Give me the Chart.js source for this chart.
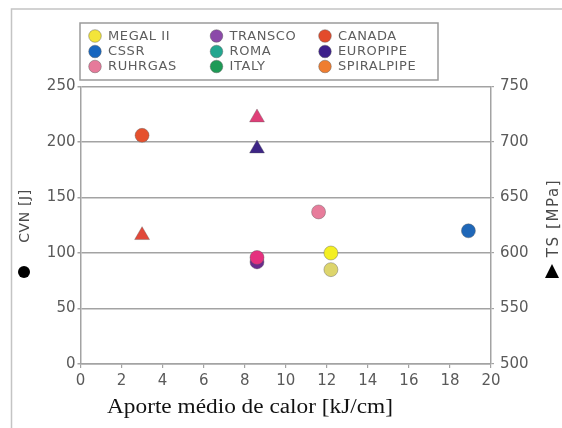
<!DOCTYPE html>
<html>
<head>
<meta charset="utf-8">
<script src="https://cdn.jsdelivr.net/npm/chart.js@4/dist/chart.umd.min.js"></script>
<style>
  html, body { margin: 0; padding: 0; background: #fff; }
  #wrap { position: relative; width: 562px; height: 428px; }
</style>
</head>
<body>
<div id="wrap"><canvas id="chart"></canvas></div>
<script>
// Charpy energy (CVN) measurements against mean heat input
const heatInputCVN = [3.0, 8.6, 8.6, 11.6, 12.2, 12.2, 18.9];
const cvnJ = [206, 92, 96, 137, 100, 85, 120];
const cvnPipeline = ['CANADA', 'EUROPIPE', 'RUHRGAS', 'RUHRGAS', 'MEGAL II', 'MEGAL II', 'CSSR'];

// Tensile strength (TS) measurements against mean heat input
const heatInputTS = [3.0, 8.6, 8.6];
const tsMPa = [616, 694, 722];
const tsPipeline = ['CANADA', 'EUROPIPE', 'RUHRGAS'];

// Legend entries, listed column by column
const legendNames = ['MEGAL II', 'CSSR', 'RUHRGAS', 'TRANSCO', 'ROMA', 'ITALY', 'CANADA', 'EUROPIPE', 'SPIRALPIPE'];

// Axis ticks
const xTicks = [0, 2, 4, 6, 8, 10, 12, 14, 16, 18, 20];
const cvnTicks = [0, 50, 100, 150, 200, 250];
const tsTicks = [500, 550, 600, 650, 700, 750];

// Colours
const legendColors = ['#f3e53a', '#1766bf', '#e67a9a', '#8b4aa9', '#23a68f', '#1e9a56', '#e34b2b', '#3d208c', '#ef7d30'];
const cvnColors = ['#e5512e', '#6a2b8d', '#e5307e', '#e77c9b', '#f4ef22', '#ddd56c', '#1f67b8'];
const tsColors = ['#e1483a', '#3d2585', '#df3f78'];

const GRID = '#a3a3a3';
const TICK_TXT = '#5a5a5a';
const SANS = '"DejaVu Sans", sans-serif';

const cvnPoints = heatInputCVN.map((x, i) => ({ x: x, y: cvnJ[i], pipeline: cvnPipeline[i] }));
const tsPoints = heatInputTS.map((x, i) => ({ x: x, y: tsMPa[i], pipeline: tsPipeline[i] }));

// Page frame, legend box, axis titles with their marker symbols
const decorations = {
  id: 'decorations',
  beforeDraw(chart) {
    const ctx = chart.ctx;
    ctx.save();
    ctx.fillStyle = '#fff';
    ctx.fillRect(0, 0, chart.width, chart.height);
    ctx.restore();
  },
  afterDraw(chart) {
    const ctx = chart.ctx;
    ctx.save();

    // outer frame (left and top edges)
    ctx.strokeStyle = '#c4c4c4';
    ctx.lineWidth = 1.5;
    ctx.beginPath();
    ctx.moveTo(11.5, 428);
    ctx.lineTo(11.5, 9);
    ctx.lineTo(562, 9);
    ctx.stroke();

    // legend box
    ctx.fillStyle = '#fff';
    ctx.fillRect(80, 23, 358, 57);
    ctx.strokeStyle = '#9a9a9a';
    ctx.lineWidth = 1.5;
    ctx.strokeRect(80, 23, 358, 57);

    const colX = [95, 216.5, 325];
    const rowY = [36, 51.5, 66.5];
    ctx.font = '13px ' + SANS;
    ctx.letterSpacing = '0.6px';
    ctx.textBaseline = 'middle';
    ctx.textAlign = 'left';
    legendNames.forEach((name, i) => {
      const c = Math.floor(i / 3), r = i % 3;
      const cx = colX[c], cy = rowY[r];
      ctx.beginPath();
      ctx.arc(cx, cy, 6.3, 0, Math.PI * 2);
      ctx.fillStyle = legendColors[i];
      ctx.fill();
      ctx.strokeStyle = 'rgba(90,90,90,0.45)';
      ctx.lineWidth = 1;
      ctx.stroke();
      ctx.fillStyle = '#5e5e5e';
      ctx.fillText(name, cx + 13, cy + 0.5);
    });
    ctx.letterSpacing = '0px';

    // left axis title + filled circle marker
    ctx.fillStyle = '#4a4a4a';
    ctx.save();
    ctx.translate(25, 216);
    ctx.rotate(-Math.PI / 2);
    ctx.font = '14px ' + SANS;
    ctx.letterSpacing = '0.6px';
    ctx.textAlign = 'center';
    ctx.textBaseline = 'middle';
    ctx.fillText('CVN [J]', 0, 0);
    ctx.restore();
    ctx.fillStyle = '#000';
    ctx.beginPath();
    ctx.arc(24, 272, 6, 0, Math.PI * 2);
    ctx.fill();

    // right axis title + filled triangle marker
    ctx.fillStyle = '#4a4a4a';
    ctx.save();
    ctx.translate(554, 218);
    ctx.rotate(-Math.PI / 2);
    ctx.font = '15px ' + SANS;
    ctx.letterSpacing = '1.6px';
    ctx.textAlign = 'center';
    ctx.textBaseline = 'middle';
    ctx.fillText('TS [MPa]', 0, 0);
    ctx.restore();
    ctx.fillStyle = '#000';
    ctx.beginPath();
    ctx.moveTo(552, 264);
    ctx.lineTo(559, 278);
    ctx.lineTo(545, 278);
    ctx.closePath();
    ctx.fill();

    // x axis title (serif), stretched to its line width
    ctx.fillStyle = '#111';
    ctx.font = '20px "Liberation Serif", "Times New Roman", serif';
    ctx.textBaseline = 'alphabetic';
    ctx.textAlign = 'left';
    const title = 'Aporte médio de calor [kJ/cm]';
    const w = ctx.measureText(title).width;
    const target = 286;
    ctx.save();
    ctx.translate(107, 413);
    ctx.scale(target / w, 1);
    ctx.fillText(title, 0, 0);
    ctx.restore();

    ctx.restore();
  }
};

new Chart(document.getElementById('chart'), {
  type: 'scatter',
  data: {
    datasets: [
      {
        label: 'CVN',
        data: cvnPoints,
        yAxisID: 'y',
        pointStyle: 'circle',
        pointRadius: 7,
        pointHoverRadius: 7,
        backgroundColor: cvnColors,
        borderColor: 'rgba(90,90,90,0.4)',
        borderWidth: 1
      },
      {
        label: 'TS',
        data: tsPoints,
        yAxisID: 'y2',
        pointStyle: 'triangle',
        pointRadius: 8.6,
        pointHoverRadius: 8.6,
        backgroundColor: tsColors,
        borderColor: 'rgba(90,90,90,0.35)',
        borderWidth: 1
      }
    ]
  },
  options: {
    responsive: true,
    maintainAspectRatio: false,
    animation: false,
    layout: { padding: { top: 86.5, left: 0, right: 0, bottom: 0 } },
    plugins: { legend: { display: false }, tooltip: { enabled: false } },
    scales: {
      x: {
        type: 'linear',
        min: xTicks[0],
        max: xTicks[xTicks.length - 1],
        afterBuildTicks: (s) => { s.ticks = xTicks.map(v => ({ value: v })); },
        afterFit: (s) => { s.height = 64; },
        border: { display: true, color: GRID, width: 1.5 },
        grid: { display: true, drawOnChartArea: false, drawTicks: true, tickLength: 4, color: GRID, lineWidth: 1.2 },
        ticks: { color: TICK_TXT, font: { family: SANS, size: 15 }, padding: 4, maxRotation: 0 }
      },
      y: {
        type: 'linear',
        position: 'left',
        min: cvnTicks[0],
        max: cvnTicks[cvnTicks.length - 1],
        afterBuildTicks: (s) => { s.ticks = cvnTicks.map(v => ({ value: v })); },
        afterFit: (s) => { s.width = 80.5; },
        border: { display: true, color: GRID, width: 1.5 },
        grid: { display: true, drawOnChartArea: true, drawTicks: true, tickLength: 3, color: GRID, lineWidth: 1.5 },
        ticks: { color: TICK_TXT, font: { family: SANS, size: 15 }, padding: 2 }
      },
      y2: {
        type: 'linear',
        position: 'right',
        min: tsTicks[0],
        max: tsTicks[tsTicks.length - 1],
        afterBuildTicks: (s) => { s.ticks = tsTicks.map(v => ({ value: v })); },
        afterFit: (s) => { s.width = 71; },
        border: { display: true, color: GRID, width: 1.5 },
        grid: { display: true, drawOnChartArea: false, drawTicks: true, tickLength: 3, color: GRID, lineWidth: 1.2 },
        ticks: { color: TICK_TXT, font: { family: SANS, size: 15 }, padding: 6 }
      }
    }
  },
  plugins: [decorations]
});
</script>
</body>
</html>
